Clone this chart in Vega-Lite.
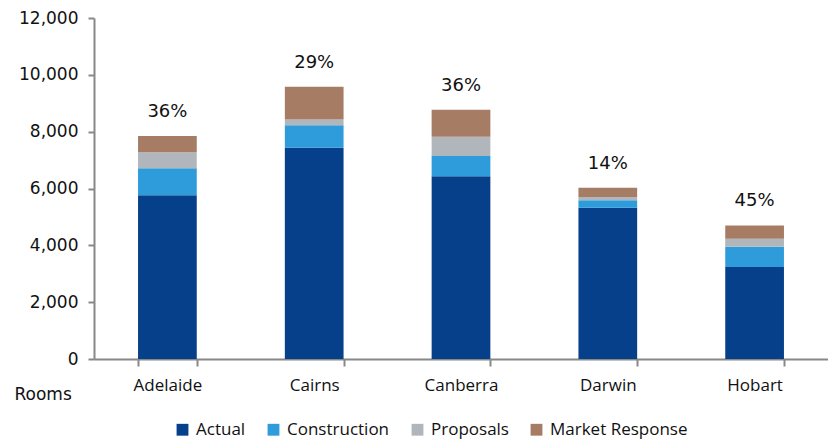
{
  "$schema": "https://vega.github.io/schema/vega-lite/v6.json",
  "width": 734,
  "height": 341,
  "autosize": {"type": "none"},
  "padding": {"left": 94, "top": 18, "right": 0, "bottom": 82},
  "background": "white",
  "config": {"view": {"stroke": null}},
  "datasets": {
    "rooms": [
      {"city": "Adelaide", "series": "Actual", "value": 5760},
      {"city": "Adelaide", "series": "Construction", "value": 950},
      {"city": "Adelaide", "series": "Proposals", "value": 570},
      {"city": "Adelaide", "series": "Market Response", "value": 570},
      {"city": "Cairns", "series": "Actual", "value": 7430},
      {"city": "Cairns", "series": "Construction", "value": 800},
      {"city": "Cairns", "series": "Proposals", "value": 200},
      {"city": "Cairns", "series": "Market Response", "value": 1150},
      {"city": "Canberra", "series": "Actual", "value": 6430},
      {"city": "Canberra", "series": "Construction", "value": 710},
      {"city": "Canberra", "series": "Proposals", "value": 680},
      {"city": "Canberra", "series": "Market Response", "value": 950},
      {"city": "Darwin", "series": "Actual", "value": 5320},
      {"city": "Darwin", "series": "Construction", "value": 270},
      {"city": "Darwin", "series": "Proposals", "value": 110},
      {"city": "Darwin", "series": "Market Response", "value": 330},
      {"city": "Hobart", "series": "Actual", "value": 3240},
      {"city": "Hobart", "series": "Construction", "value": 710},
      {"city": "Hobart", "series": "Proposals", "value": 280},
      {"city": "Hobart", "series": "Market Response", "value": 470}
    ],
    "labels": [
      {"city": "Adelaide", "total": 7850, "label": "36%"},
      {"city": "Cairns", "total": 9580, "label": "29%"},
      {"city": "Canberra", "total": 8770, "label": "36%"},
      {"city": "Darwin", "total": 6030, "label": "14%"},
      {"city": "Hobart", "total": 4700, "label": "45%"}
    ]
  },
  "encoding": {
    "x": {
      "field": "city", "type": "nominal", "sort": null,
      "scale": {"paddingInner": 0.6, "paddingOuter": 0.3},
      "axis": {
        "title": "Rooms", "titleAnchor": "start", "titleAlign": "left", "titleAngle": 0,
        "titleX": -80, "titleY": 27, "titleBaseline": "top",
        "titleFont": "DejaVu Sans", "titleFontSize": 17, "titleFontWeight": "normal", "titleColor": "#111",
        "labelAngle": 0, "labelFont": "Open Sans", "labelFontSize": 17, "labelColor": "#111",
        "labelPadding": 11, "tickBand": "extent", "tickSize": 7, "tickColor": "#888", "tickWidth": 2,
        "domainColor": "#888", "domainWidth": 2, "grid": false
      }
    }
  },
  "layer": [
    {
      "data": {"name": "rooms"},
      "transform": [
        {"calculate": "indexof(['Actual', 'Construction', 'Proposals', 'Market Response'], datum.series)", "as": "stackOrder"}
      ],
      "mark": {"type": "bar"},
      "encoding": {
        "y": {
          "field": "value", "type": "quantitative", "stack": "zero",
          "scale": {"domain": [0, 12000]},
          "axis": {
            "title": null, "values": [0, 2000, 4000, 6000, 8000, 10000, 12000], "format": ",.0f",
            "labelFont": "DejaVu Sans", "labelFontSize": 17, "labelColor": "#111", "labelPadding": 10,
            "tickSize": 6, "tickColor": "#888", "tickWidth": 2, "domainColor": "#888", "domainWidth": 2, "grid": false
          }
        },
        "color": {
          "field": "series", "type": "nominal",
          "scale": {
            "domain": ["Actual", "Construction", "Proposals", "Market Response"],
            "range": ["#063F8A", "#2E9BDB", "#B1B6BD", "#A67C64"]
          },
          "legend": {
            "title": null, "orient": "none", "direction": "horizontal", "columns": 4,
            "legendX": 80, "legendY": 403, "symbolType": "square", "symbolSize": 140,
            "symbolStrokeWidth": 0, "labelFont": "Open Sans", "labelFontSize": 17, "labelColor": "#111",
            "columnPadding": 19, "labelOffset": 5
          }
        },
        "order": {"field": "stackOrder", "type": "quantitative", "sort": "ascending"}
      }
    },
    {
      "data": {"name": "labels"},
      "mark": {"type": "text", "font": "DejaVu Sans", "fontSize": 18, "color": "#111", "baseline": "middle", "dy": -24},
      "encoding": {
        "y": {"field": "total", "type": "quantitative"},
        "text": {"field": "label"}
      }
    }
  ]
}
